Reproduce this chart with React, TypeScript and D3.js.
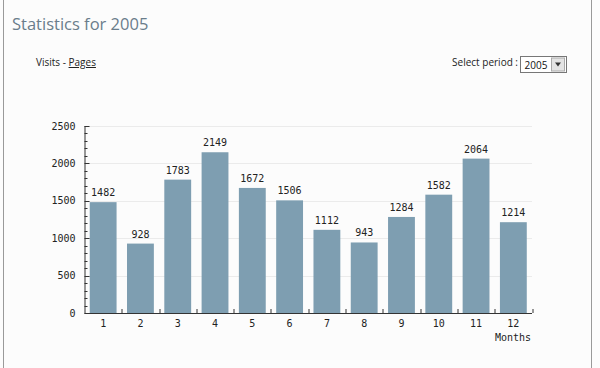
import React, { useEffect, useRef } from 'react'
import * as d3 from 'd3'

const months = ['1', '2', '3', '4', '5', '6', '7', '8', '9', '10', '11', '12']
const visits = [1482, 928, 1783, 2149, 1672, 1506, 1112, 943, 1284, 1582, 2064, 1214]
const yTicks = [0, 500, 1000, 1500, 2000, 2500]
const yMinorTicks = d3.range(0, 2501, 100)

export default function App() {
  const svgRef = useRef<SVGSVGElement>(null)
  const width = 600
  const height = 368
  const margin = { top: 126, right: 68, bottom: 55, left: 84.5 }

  useEffect(() => {
    if (!svgRef.current) return
    const svg = d3.select(svgRef.current)
    svg.selectAll('*').remove()

    // page background and frame
    svg.append('rect').attr('width', width).attr('height', height).attr('fill', '#fcfcfc')
    svg.append('line').attr('x1', 3.5).attr('x2', 3.5).attr('y1', 0).attr('y2', height)
      .attr('stroke', '#9a9a9a')
    svg.append('line').attr('x1', 591.5).attr('x2', 591.5).attr('y1', 0).attr('y2', height)
      .attr('stroke', '#9a9a9a')

    // header
    svg.append('text').attr('x', 12).attr('y', 30)
      .attr('font-family', 'Open Sans').attr('font-size', 16.5).attr('fill', '#6a7d8b')
      .text('Statistics for 2005')

    const hdr = svg.append('text').attr('x', 36).attr('y', 66)
      .attr('font-family', 'Open Sans').attr('font-size', 10).attr('fill', '#222')
    hdr.append('tspan').text('Visits - ')
    hdr.append('tspan').attr('text-decoration', 'underline').text('Pages')

    svg.append('text').attr('x', 518).attr('y', 66).attr('text-anchor', 'end')
      .attr('font-family', 'Open Sans').attr('font-size', 10).attr('fill', '#222')
      .text('Select period :')

    // select box
    const sel = svg.append('g').attr('transform', 'translate(520.5,56.5)')
    sel.append('rect').attr('width', 46).attr('height', 16).attr('fill', '#fff')
      .attr('stroke', '#777')
    sel.append('text').attr('x', 4).attr('y', 12.5)
      .attr('font-family', 'Open Sans').attr('font-size', 10).attr('fill', '#111').text('2005')
    sel.append('rect').attr('x', 31).attr('y', 1.5).attr('width', 13).attr('height', 13)
      .attr('fill', '#e4e4e4').attr('stroke', '#aaa')
    sel.append('path').attr('d', 'M34.5,6 L40.5,6 L37.5,10 Z').attr('fill', '#333')

    const innerW = width - margin.left - margin.right
    const innerH = height - margin.top - margin.bottom
    const g = svg.append('g').attr('transform', `translate(${margin.left},${margin.top})`)

    const x = d3.scaleBand().domain(months).range([0, innerW])
      .paddingInner(0.28).paddingOuter(0.14)
    const y = d3.scaleLinear().domain([0, 2500]).range([innerH, 0])

    // gridlines
    g.selectAll('line.grid').data(yTicks.slice(1)).join('line')
      .attr('class', 'grid')
      .attr('x1', 0).attr('x2', innerW)
      .attr('y1', d => Math.round(y(d)) + 0.5).attr('y2', d => Math.round(y(d)) + 0.5)
      .attr('stroke', '#ebebeb')

    // bars
    g.selectAll('rect.bar').data(visits).join('rect')
      .attr('class', 'bar')
      .attr('x', (_, i) => x(months[i]) || 0)
      .attr('y', d => y(d))
      .attr('width', x.bandwidth())
      .attr('height', d => innerH - y(d))
      .attr('fill', '#7e9eb1')

    const mono = 'DejaVu Sans Mono'

    // value labels
    g.selectAll('text.val').data(visits).join('text')
      .attr('class', 'val')
      .attr('x', (_, i) => (x(months[i]) || 0) + x.bandwidth() / 2)
      .attr('y', d => y(d) - 6)
      .attr('text-anchor', 'middle')
      .attr('font-family', mono).attr('font-size', 10).attr('fill', '#222')
      .text(d => d)

    // y axis
    g.append('line').attr('x1', 0.5).attr('x2', 0.5).attr('y1', 0).attr('y2', innerH)
      .attr('stroke', '#333')
    g.selectAll('line.minor').data(yMinorTicks).join('line')
      .attr('class', 'minor')
      .attr('x1', 0).attr('x2', d => (d % 500 === 0 ? 5 : 3))
      .attr('y1', d => Math.round(y(d)) + 0.5).attr('y2', d => Math.round(y(d)) + 0.5)
      .attr('stroke', '#333')
    g.selectAll('text.ytick').data(yTicks).join('text')
      .attr('class', 'ytick')
      .attr('x', -9).attr('y', d => y(d) + 3.5)
      .attr('text-anchor', 'end')
      .attr('font-family', mono).attr('font-size', 10).attr('fill', '#222')
      .text(d => d)

    // x axis
    g.append('line').attr('x1', 0).attr('x2', innerW).attr('y1', innerH + 0.5).attr('y2', innerH + 0.5)
      .attr('stroke', '#333')
    const bounds = months.map((_, i) => Math.round(i * x.step() + x.step()))
    g.selectAll('line.xtick').data(bounds).join('line')
      .attr('class', 'xtick')
      .attr('x1', d => d + 0.5).attr('x2', d => d + 0.5)
      .attr('y1', innerH - 4).attr('y2', innerH)
      .attr('stroke', '#333')
    g.selectAll('text.xtick').data(months).join('text')
      .attr('class', 'xtick')
      .attr('x', d => (x(d) || 0) + x.bandwidth() / 2)
      .attr('y', innerH + 14)
      .attr('text-anchor', 'middle')
      .attr('font-family', mono).attr('font-size', 10).attr('fill', '#222')
      .text(d => d)
    g.append('text').attr('x', innerW - 1).attr('y', innerH + 28)
      .attr('text-anchor', 'end')
      .attr('font-family', mono).attr('font-size', 10).attr('fill', '#222')
      .text('Months')
  }, [])

  return (
    <div style={{ position: 'absolute', left: 0, top: 0 }}>
      <svg ref={svgRef} width={width} height={height} style={{ display: 'block' }}></svg>
    </div>
  )
}
